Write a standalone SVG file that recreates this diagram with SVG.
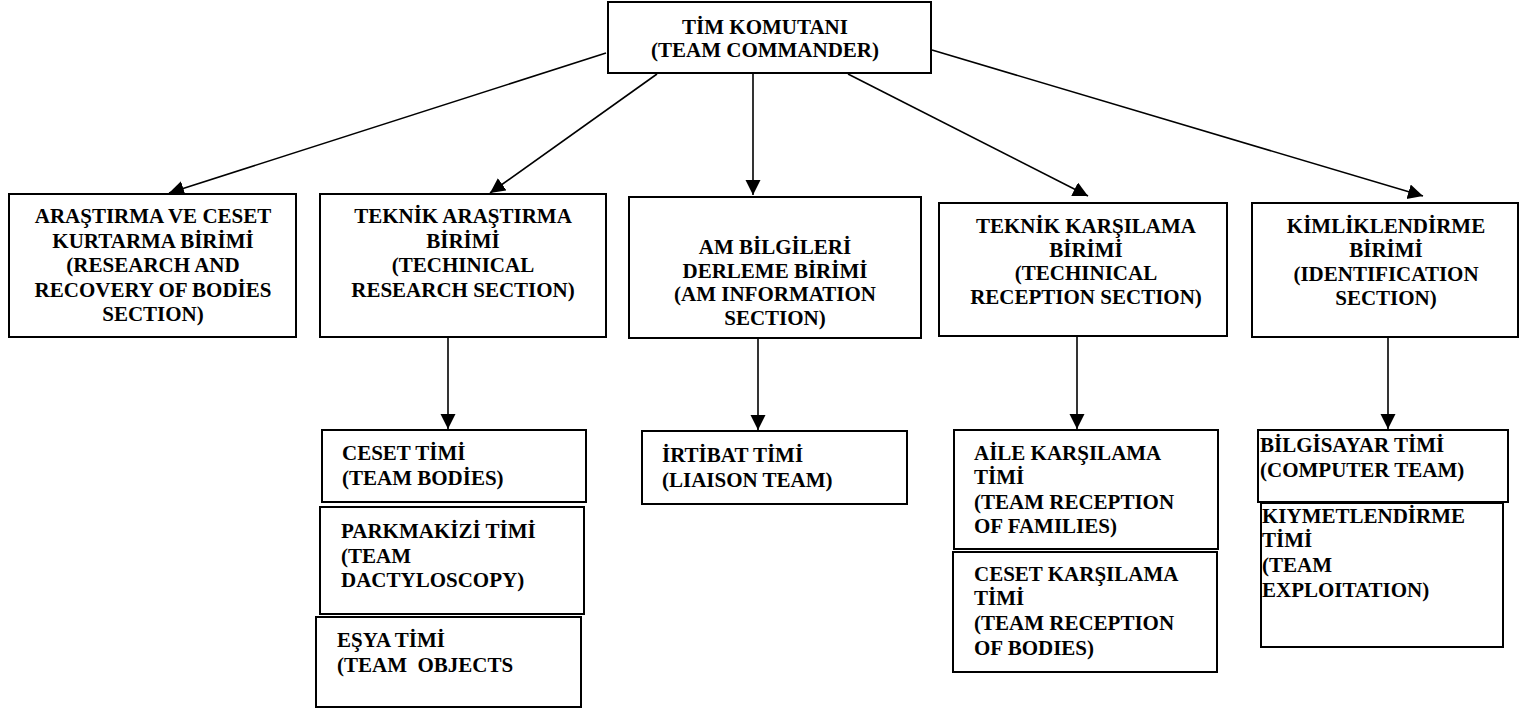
<svg xmlns="http://www.w3.org/2000/svg" width="1525" height="709" viewBox="0 0 1525 709" font-family="'Liberation Serif', 'DejaVu Serif', serif">
<style>
.box{fill:#fff;stroke:#000;stroke-width:2}
text{font-family:'Liberation Serif','DejaVu Serif',serif;font-weight:bold;font-size:21px;fill:#000}
.c{text-anchor:middle}
.conn line{stroke:#000;stroke-width:1.6;fill:none}
</style>
<defs>
<marker id="ah" markerUnits="userSpaceOnUse" markerWidth="16" markerHeight="16" refX="15" refY="7.5" orient="auto">
<path d="M0,0 L15,7.5 L0,15 z" fill="#000"/>
</marker>
</defs>
<rect width="1525" height="709" fill="#fff"/>
<g id="connectors" class="conn">
<line x1="606" y1="53" x2="169" y2="193" marker-end="url(#ah)"/>
<line x1="657" y1="74" x2="490" y2="193" marker-end="url(#ah)"/>
<line x1="753" y1="74" x2="753" y2="195" marker-end="url(#ah)"/>
<line x1="848" y1="74" x2="1088" y2="196" marker-end="url(#ah)"/>
<line x1="932" y1="50" x2="1423" y2="196" marker-end="url(#ah)"/>
<line x1="448" y1="337" x2="448" y2="429" marker-end="url(#ah)"/>
<line x1="758" y1="338" x2="758" y2="430" marker-end="url(#ah)"/>
<line x1="1077" y1="336" x2="1077" y2="429" marker-end="url(#ah)"/>
<line x1="1388" y1="337" x2="1388" y2="429" marker-end="url(#ah)"/>
</g>
<g id="commander">
<rect class="box" x="608" y="2" width="323" height="71"/>
<text class="c" x="765" y="34">TİM KOMUTANI</text>
<text class="c" x="765" y="57">(TEAM COMMANDER)</text>
</g>
<g id="research-recovery">
<rect class="box" x="9" y="194" width="287" height="143"/>
<text class="c" x="153" y="223">ARAŞTIRMA VE CESET</text>
<text class="c" x="153" y="247.5">KURTARMA BİRİMİ</text>
<text class="c" x="153" y="272">(RESEARCH AND</text>
<text class="c" x="153" y="296.5">RECOVERY OF BODİES</text>
<text class="c" x="153" y="321">SECTION)</text>
</g>
<g id="technical-research">
<rect class="box" x="320" y="194" width="286" height="143"/>
<text class="c" x="463" y="223">TEKNİK ARAŞTIRMA</text>
<text class="c" x="463" y="247.5">BİRİMİ</text>
<text class="c" x="463" y="272">(TECHINICAL</text>
<text class="c" x="463" y="296.5">RESEARCH SECTION)</text>
</g>
<g id="am-information">
<rect class="box" x="629" y="197" width="292" height="141"/>
<text class="c" x="775" y="254">AM BİLGİLERİ</text>
<text class="c" x="775" y="277.5">DERLEME BİRİMİ</text>
<text class="c" x="775" y="301">(AM INFORMATION</text>
<text class="c" x="775" y="325">SECTION)</text>
</g>
<g id="technical-reception">
<rect class="box" x="939" y="203" width="288" height="133"/>
<text class="c" x="1086" y="233">TEKNİK KARŞILAMA</text>
<text class="c" x="1086" y="256.5">BİRİMİ</text>
<text class="c" x="1086" y="280">(TECHINICAL</text>
<text class="c" x="1086" y="304">RECEPTION SECTION)</text>
</g>
<g id="identification">
<rect class="box" x="1252" y="203" width="266" height="134"/>
<text class="c" x="1386" y="233">KİMLİKLENDİRME</text>
<text class="c" x="1386" y="257">BİRİMİ</text>
<text class="c" x="1386" y="281">(IDENTIFICATION</text>
<text class="c" x="1386" y="305">SECTION)</text>
</g>
<g id="team-bodies">
<rect class="box" x="322" y="430" width="264" height="72"/>
<text x="342" y="460">CESET TİMİ</text>
<text x="342" y="485">(TEAM BODİES)</text>
</g>
<g id="team-dactyloscopy">
<rect class="box" x="320" y="507" width="264" height="107"/>
<text x="341" y="538">PARKMAKİZİ TİMİ</text>
<text x="341" y="562.5">(TEAM</text>
<text x="341" y="587">DACTYLOSCOPY)</text>
</g>
<g id="team-objects">
<rect class="box" x="316" y="617" width="265" height="90"/>
<text x="337" y="647">EŞYA TİMİ</text>
<text x="337" y="672" xml:space="preserve">(TEAM  OBJECTS</text>
</g>
<g id="liaison-team">
<rect class="box" x="642" y="431" width="265" height="73"/>
<text x="662" y="462">İRTİBAT TİMİ</text>
<text x="662" y="487">(LIAISON TEAM)</text>
</g>
<g id="family-reception">
<rect class="box" x="954" y="430" width="264" height="119"/>
<text x="974" y="460">AİLE KARŞILAMA</text>
<text x="974" y="484">TİMİ</text>
<text x="974" y="508.5">(TEAM RECEPTION</text>
<text x="974" y="533">OF FAMILIES)</text>
</g>
<g id="body-reception">
<rect class="box" x="953" y="552" width="264" height="120"/>
<text x="974" y="581">CESET KARŞILAMA</text>
<text x="974" y="605">TİMİ</text>
<text x="974" y="630">(TEAM RECEPTION</text>
<text x="974" y="655">OF BODIES)</text>
</g>
<g id="computer-team">
<rect class="box" x="1258" y="430" width="250" height="72"/>
<text x="1260" y="452">BİLGİSAYAR TİMİ</text>
<text x="1260" y="477">(COMPUTER TEAM)</text>
</g>
<g id="exploitation-team">
<rect class="box" x="1261" y="503" width="242" height="144"/>
<text x="1262" y="523">KIYMETLENDİRME</text>
<text x="1262" y="547">TİMİ</text>
<text x="1262" y="572">(TEAM</text>
<text x="1262" y="597">EXPLOITATION)</text>
</g>
</svg>
